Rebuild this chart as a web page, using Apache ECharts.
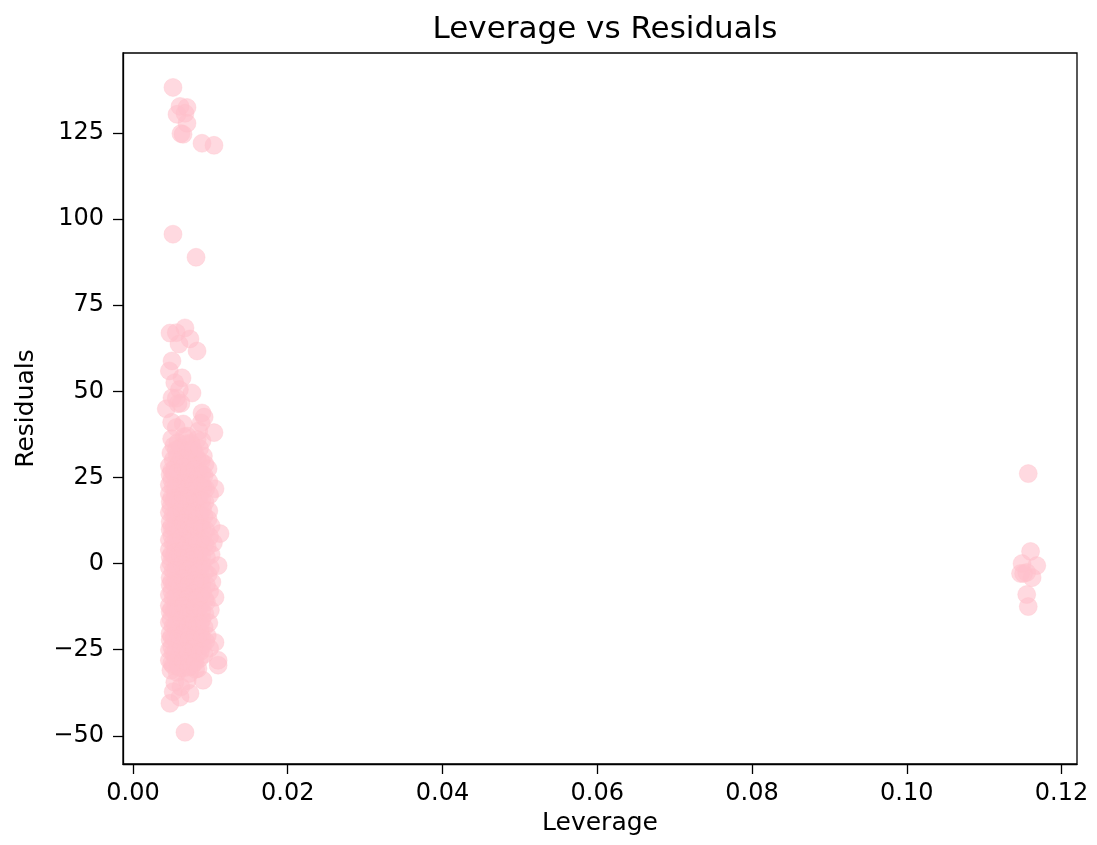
<!DOCTYPE html>
<html>
<head>
<meta charset="utf-8">
<script src="https://cdn.jsdelivr.net/npm/echarts@6/dist/echarts.min.js"></script>
<style>
html,body{margin:0;padding:0;background:#fff;}
#chart{width:1097px;height:845px;}
</style>
</head>
<body>
<div id="chart"></div>
<script>
// Tick values and labels
var xTicks = [0, 0.02, 0.04, 0.06, 0.08, 0.10, 0.12];
var xTickLabels = ['0.00', '0.02', '0.04', '0.06', '0.08', '0.10', '0.12'];
var yTicks = [-50, -25, 0, 25, 50, 75, 100, 125];
var yTickLabels = ['\u221250', '\u221225', '0', '25', '50', '75', '100', '125'];

// Outlying low-leverage observations (leverage, residual)
var outlierPoints = [
  [0.00517,138.2],[0.00608,132.7],[0.00698,132.4],[0.00672,130.7],[0.00569,130.4],[0.00698,127.8],
  [0.00647,124.6],[0.00620,124.8],[0.00892,122.0],[0.01047,121.4],[0.00517,95.6],[0.00815,88.9],
  [0.00478,66.9],[0.00560,67.0],[0.00672,68.4],[0.00595,63.7],[0.00737,65.2],[0.00828,61.7],
  [0.00504,58.8],[0.00470,55.9],[0.00634,53.9],[0.00540,52.5],[0.00600,50.5],[0.00763,49.5],
  [0.00560,48.0],[0.00504,48.1],[0.00582,46.4],[0.00620,46.5],[0.00430,44.9],[0.00892,43.7],
  [0.00880,40.8],[0.01047,38.0],[0.00500,41.0],[0.00560,39.5],[0.00650,40.5],[0.00700,37.0],
  [0.00920,42.5],[0.00850,38.5],
  [0.0054,-34.5],[0.0062,-35.8],[0.0070,-34.0],[0.00737,-37.7],[0.00608,-38.8],[0.00478,-40.6],
  [0.0052,-37.2],[0.00905,-33.9],[0.00672,-49.0]
];

// Dense core of low-leverage observations
var corePoints = [
  [0.0050,36.2],[0.0058,35.1],[0.0066,36.8],[0.0075,34.9],[0.0083,36.0],[0.00892,35.6],
  [0.0049,32.1],[0.0057,31.4],[0.0064,32.6],[0.0071,30.8],[0.0080,31.9],[0.0088,29.6],
  [0.0047,28.3],[0.0054,27.6],[0.0061,28.9],[0.0069,27.2],[0.0077,28.4],[0.0085,27.0],[0.0093,28.8],
  [0.0050,24.4],[0.0058,23.7],[0.0065,24.9],[0.0073,23.1],[0.0081,24.6],[0.0089,23.3],
  [0.0047,20.2],[0.0055,19.6],[0.0062,20.8],[0.0070,19.1],[0.0078,20.5],[0.0086,19.4],[0.0094,21.7],[0.0106,21.7],
  [0.0049,16.3],[0.0057,15.5],[0.0064,16.9],[0.0072,15.2],[0.0080,16.4],[0.0090,15.8],
  [0.0048,12.1],[0.0056,11.4],[0.0063,12.7],[0.0071,11.0],[0.0079,12.3],[0.0087,11.6],[0.0097,12.9],
  [0.0050,8.2],[0.0058,7.5],[0.0066,8.8],[0.0074,7.1],[0.0082,8.4],[0.0090,7.3],[0.01125,8.7],[0.0104,6.0],
  [0.0047,4.0],[0.0055,3.3],[0.0062,4.6],[0.0070,3.1],[0.0078,4.4],[0.0086,3.6],[0.0096,4.8],
  [0.0049,0.2],[0.0057,-0.6],[0.0065,0.7],[0.0073,-0.9],[0.0081,0.4],[0.0089,-0.3],[0.0110,-0.6],
  [0.0048,-4.1],[0.0056,-4.8],[0.0063,-3.5],[0.0071,-5.0],[0.0079,-3.8],[0.0087,-4.5],[0.0097,-3.2],
  [0.0050,-8.0],[0.0058,-8.7],[0.0066,-7.4],[0.0074,-9.0],[0.0082,-7.7],[0.0090,-8.4],[0.0106,-9.8],
  [0.0047,-12.2],[0.0055,-12.9],[0.0062,-11.5],[0.0070,-13.1],[0.0078,-11.8],[0.0086,-12.6],[0.0095,-11.2],
  [0.0049,-16.1],[0.0057,-16.8],[0.0065,-15.4],[0.0073,-17.0],[0.0081,-15.7],[0.0089,-16.3],
  [0.0048,-20.3],[0.0056,-19.5],[0.0063,-20.9],[0.0071,-19.2],[0.0079,-20.6],[0.0087,-19.9],[0.0096,-21.0],
  [0.0050,-24.2],[0.0058,-23.5],[0.0066,-24.8],[0.0074,-23.1],[0.0082,-24.5],[0.0090,-23.8],[0.0106,-22.9],
  [0.0047,-28.1],[0.0055,-27.4],[0.0062,-28.7],[0.0070,-27.0],[0.0078,-28.3],[0.0086,-27.6],[0.0110,-28.1],[0.0110,-29.5],
  [0.0049,-31.0],[0.0057,-31.6],[0.0065,-30.4],[0.0073,-31.9],[0.0081,-30.7],
  [0.0053,34.2],[0.0061,33.5],[0.0069,34.8],[0.0078,33.1],
  [0.0052,30.1],[0.0060,29.5],[0.0067,30.6],[0.0075,29.2],[0.0083,30.3],[0.0091,31.2],
  [0.0048,25.8],[0.0053,26.2],[0.0061,25.5],[0.0068,26.7],[0.0076,25.1],[0.0084,26.4],[0.0092,25.6],
  [0.0052,22.3],[0.0060,21.6],[0.0067,22.8],[0.0075,21.2],[0.0083,22.5],[0.0091,22.0],
  [0.0048,17.9],[0.0053,18.4],[0.0061,17.6],[0.0068,18.9],[0.0076,17.3],[0.0084,18.5],[0.0093,17.8],
  [0.0052,14.2],[0.0060,13.5],[0.0067,14.7],[0.0075,13.1],[0.0083,14.4],[0.0092,13.8],
  [0.0048,9.9],[0.0053,10.3],[0.0061,9.6],[0.0068,10.8],[0.0076,9.2],[0.0084,10.5],[0.0094,9.7],
  [0.0052,6.1],[0.0060,5.4],[0.0067,6.6],[0.0075,5.0],[0.0083,6.3],[0.0093,5.6],
  [0.0048,1.9],[0.0053,2.3],[0.0061,1.6],[0.0068,2.8],[0.0076,1.2],[0.0084,2.5],[0.0095,1.8],
  [0.0052,-2.0],[0.0060,-2.7],[0.0067,-1.5],[0.0075,-3.1],[0.0083,-1.8],[0.0093,-2.4],
  [0.0048,-6.2],[0.0053,-5.8],[0.0061,-6.5],[0.0068,-5.3],[0.0076,-6.9],[0.0084,-5.6],[0.0095,-6.3],
  [0.0052,-10.1],[0.0060,-10.8],[0.0067,-9.6],[0.0075,-11.2],[0.0083,-9.9],[0.0093,-10.4],
  [0.0048,-14.0],[0.0053,-13.6],[0.0061,-14.3],[0.0068,-13.1],[0.0076,-14.7],[0.0084,-13.4],[0.0093,-14.6],
  [0.0052,-18.2],[0.0060,-18.9],[0.0067,-17.7],[0.0075,-19.3],[0.0083,-18.0],[0.0092,-18.5],
  [0.0048,-22.1],[0.0053,-21.7],[0.0061,-22.4],[0.0068,-21.2],[0.0076,-22.8],[0.0084,-21.5],[0.0094,-22.6],
  [0.0052,-26.0],[0.0060,-26.7],[0.0067,-25.5],[0.0075,-27.1],[0.0083,-25.8],[0.0092,-26.4],
  [0.0052,-29.6],[0.0060,-30.2],[0.0068,-29.0],[0.0076,-29.8],[0.0084,-30.5],
  [0.0056,33.0],[0.0063,30.4],[0.0072,32.9],[0.0086,33.4],
  [0.0050,27.0],[0.0058,26.4],[0.0065,27.8],[0.0072,26.1],[0.0080,27.3],[0.0089,26.0],[0.0097,27.5],
  [0.0047,22.9],[0.0055,22.0],[0.0063,23.4],[0.0071,21.9],[0.0079,23.0],[0.0087,22.4],[0.0098,23.8],
  [0.0050,19.0],[0.0058,18.1],[0.0065,19.6],[0.0072,18.0],[0.0080,19.1],[0.0089,18.3],[0.0099,19.9],
  [0.0047,14.8],[0.0055,14.0],[0.0063,15.6],[0.0071,13.8],[0.0079,15.0],[0.0087,14.1],[0.0098,15.3],
  [0.0050,10.8],[0.0058,10.0],[0.0065,11.7],[0.0072,9.8],[0.0080,11.0],[0.0089,10.2],[0.0101,10.9],
  [0.0047,6.9],[0.0055,6.0],[0.0063,7.6],[0.0071,5.9],[0.0079,7.1],[0.0087,6.4],[0.0099,7.8],
  [0.0050,2.8],[0.0058,2.1],[0.0065,3.7],[0.0072,1.8],[0.0080,3.0],[0.0089,2.2],[0.0101,2.6],
  [0.0047,-1.1],[0.0055,-1.9],[0.0063,-0.4],[0.0071,-2.1],[0.0079,-0.9],[0.0087,-1.6],[0.0100,-1.3],
  [0.0050,-5.2],[0.0058,-6.0],[0.0065,-4.4],[0.0072,-6.2],[0.0080,-5.0],[0.0089,-5.9],[0.0102,-5.4],
  [0.0047,-9.1],[0.0055,-9.9],[0.0063,-8.3],[0.0071,-10.1],[0.0079,-8.8],[0.0087,-9.6],[0.0099,-8.1],
  [0.0050,-13.2],[0.0058,-14.0],[0.0065,-12.4],[0.0072,-14.2],[0.0080,-12.9],[0.0089,-13.7],[0.0100,-13.5],
  [0.0047,-17.1],[0.0055,-17.9],[0.0063,-16.3],[0.0071,-18.1],[0.0079,-16.8],[0.0087,-17.6],[0.0098,-17.2],
  [0.0050,-21.2],[0.0058,-22.0],[0.0065,-20.4],[0.0072,-22.2],[0.0080,-20.9],[0.0089,-21.7],
  [0.0047,-25.1],[0.0055,-25.9],[0.0063,-24.3],[0.0071,-26.1],[0.0079,-24.8],[0.0087,-25.6],[0.0099,-24.6],
  [0.0050,-29.0],[0.0058,-29.8],[0.0065,-28.2],[0.0072,-30.0],[0.0080,-28.7]
];

// High-leverage observations
var highLevPoints = [
  [0.1157,26.1],[0.1160,3.5],[0.1149,0.0],[0.1168,-0.6],[0.1151,-2.9],[0.1162,-4.1],
  [0.1155,-2.6],[0.1147,-2.9],[0.1155,-9.0],[0.1157,-12.5]
];

var allPoints = outlierPoints.concat(corePoints, highLevPoints);

var chart = echarts.init(document.getElementById('chart'), null, {renderer: 'canvas'});
var font = 'DejaVu Sans';
function labelFor(ticks, labels) {
  return function (v) {
    for (var i = 0; i < ticks.length; i++) { if (Math.abs(ticks[i] - v) < 1e-9) return labels[i]; }
    return '';
  };
}
chart.setOption({
  animation: false,
  backgroundColor: '#ffffff',
  textStyle: {fontFamily: font},
  title: {
    text: 'Leverage vs Residuals',
    left: 600,
    top: 9,
    textAlign: 'center',
    textStyle: {fontFamily: font, fontSize: 31, fontWeight: 'normal', color: '#000'}
  },
  grid: {
    left: 123, top: 53, right: 20, bottom: 81,
    show: true, borderColor: '#000', borderWidth: 1.3, backgroundColor: 'transparent',
    containLabel: false
  },
  xAxis: {
    type: 'value',
    min: -0.00129,
    max: 0.1220,
    name: 'Leverage',
    nameLocation: 'middle',
    nameGap: 47,
    nameTextStyle: {fontFamily: font, fontSize: 25, color: '#000'},
    axisLine: {show: true, onZero: false, lineStyle: {color: '#000', width: 1.3}},
    axisTick: {show: true, inside: false, length: 10, lineStyle: {color: '#000', width: 1.3}, customValues: xTicks},
    axisLabel: {
      show: true, margin: 18, fontFamily: font, fontSize: 24, color: '#000',
      customValues: xTicks,
      formatter: labelFor(xTicks, xTickLabels)
    },
    splitLine: {show: false}
  },
  yAxis: {
    type: 'value',
    min: -58.2,
    max: 148.2,
    name: 'Residuals',
    nameLocation: 'middle',
    nameGap: 84,
    nameTextStyle: {fontFamily: font, fontSize: 25, color: '#000'},
    axisLine: {show: true, onZero: false, lineStyle: {color: '#000', width: 1.3}},
    axisTick: {show: true, inside: false, length: 10, lineStyle: {color: '#000', width: 1.3}, customValues: yTicks},
    axisLabel: {
      show: true, margin: 19, fontFamily: font, fontSize: 24, color: '#000',
      customValues: yTicks,
      formatter: labelFor(yTicks, yTickLabels)
    },
    splitLine: {show: false}
  },
  series: [{
    type: 'scatter',
    data: allPoints,
    symbol: 'circle',
    symbolSize: 18,
    itemStyle: {color: '#FFC0CB', opacity: 0.6, borderColor: '#FFC0CB', borderWidth: 0.6}
  }]
});
</script>
</body>
</html>
